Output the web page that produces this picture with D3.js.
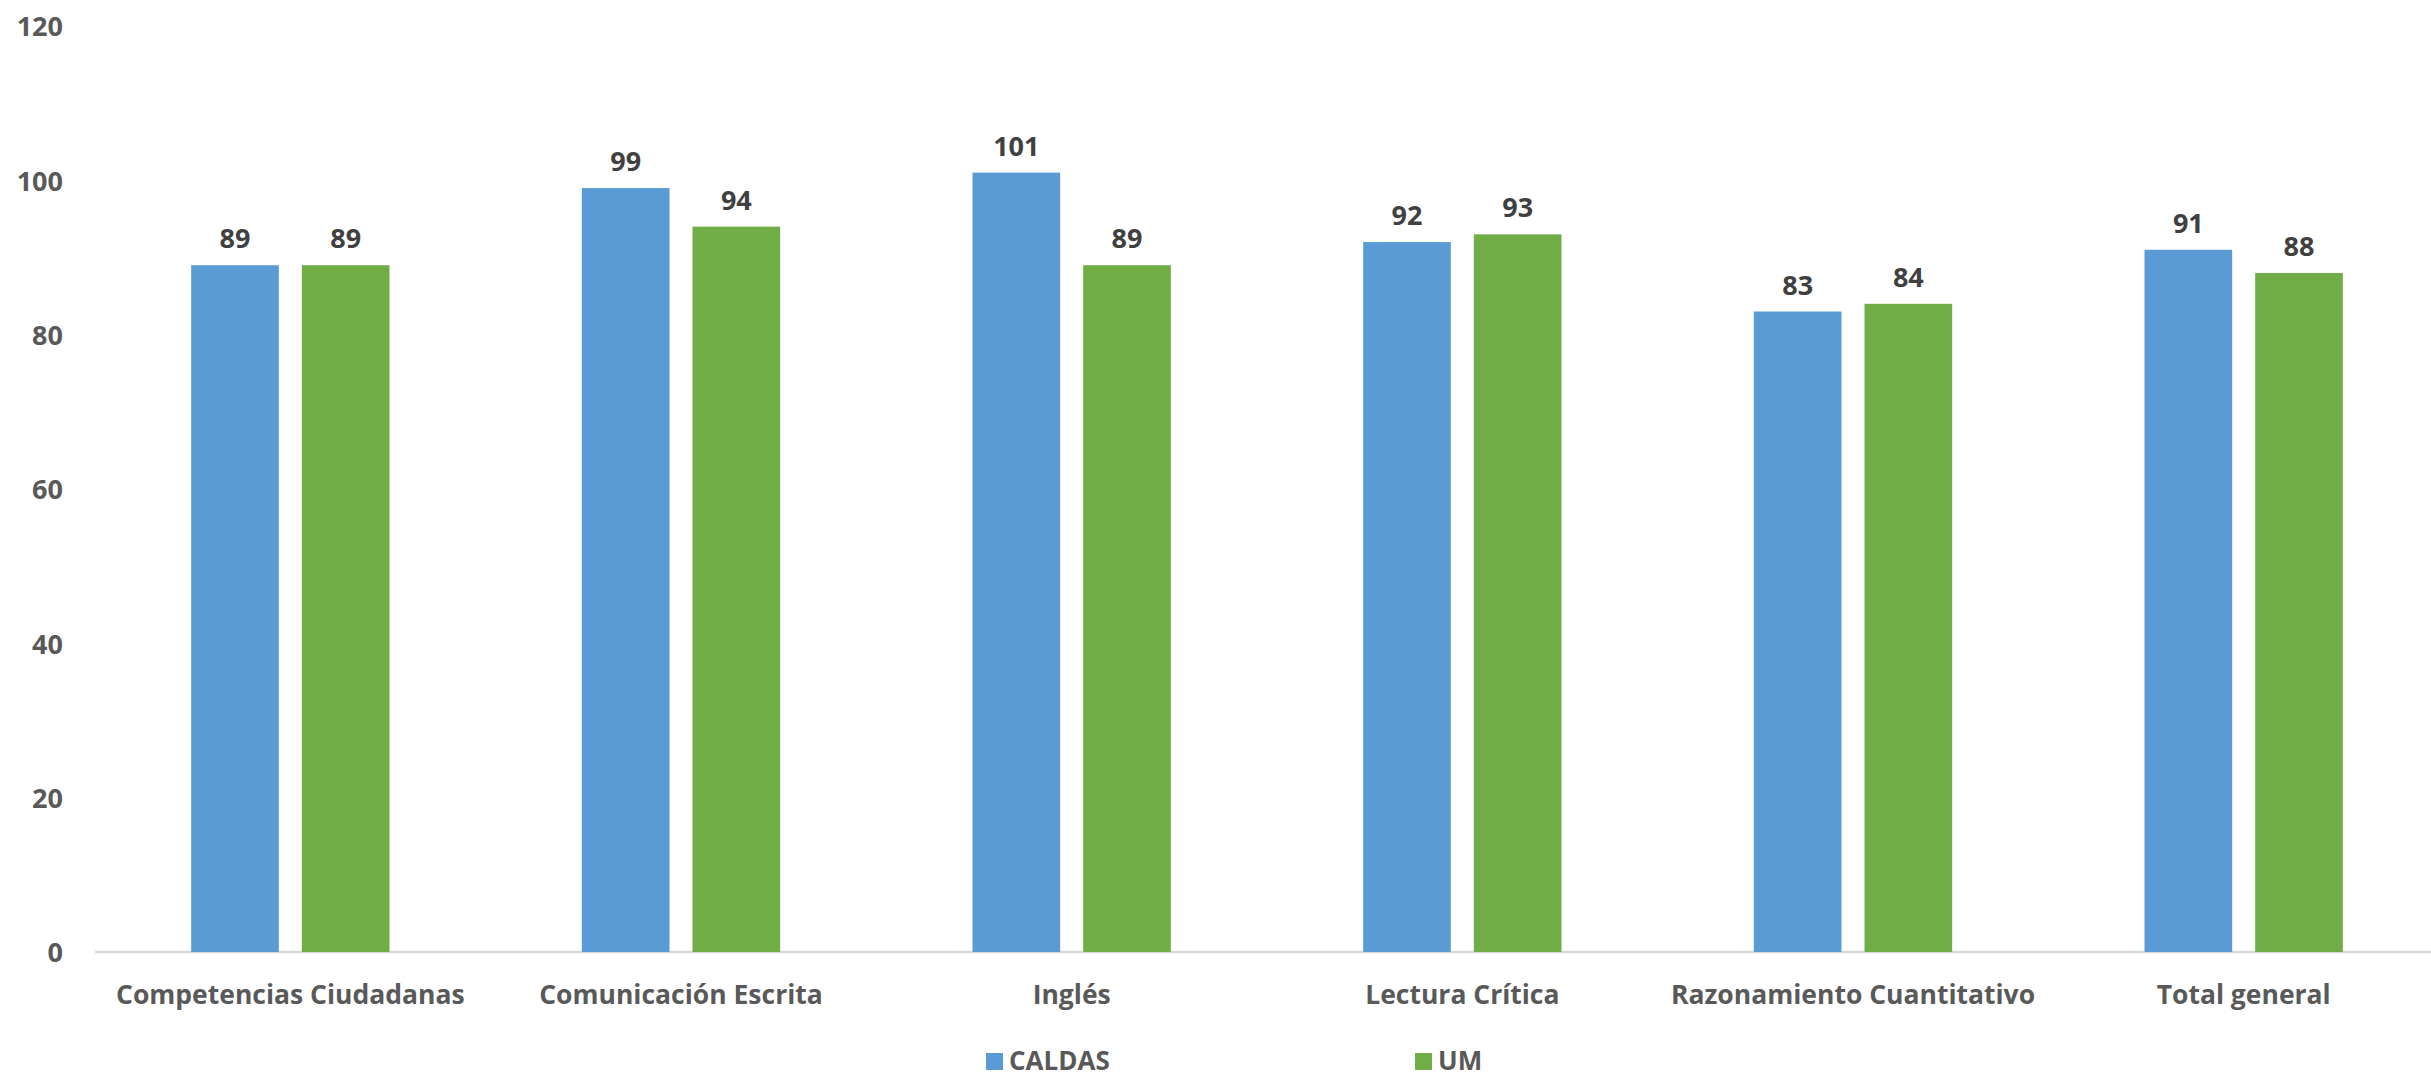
<!DOCTYPE html>
<html><head><meta charset="utf-8">
<script src="https://cdn.jsdelivr.net/npm/d3@7"></script>
<style>
html,body{margin:0;padding:0;background:#fff;}
svg{display:block;}
text{font-family:"Open Sans","Liberation Sans",sans-serif;font-weight:700;}
</style></head>
<body>
<svg id="chart" width="2431" height="1078"></svg>
<script>
const categories = ["Competencias Ciudadanas","Comunicación Escrita","Inglés","Lectura Crítica","Razonamiento Cuantitativo","Total general"];
const seriesNames = ["CALDAS","UM"];
const caldas = [89, 99, 101, 92, 83, 91];
const um = [89, 94, 89, 93, 84, 88];
const yTicks = [0, 20, 40, 60, 80, 100, 120];
const colors = ["#5B9BD5", "#70AD47"];

(function(){
const svg = d3.select("#chart");
const W = 2431, H = 1078;
const pLeft = 95, pRight = 2439, pTop = 26, pBottom = 952;

const x0 = d3.scaleBand().domain(categories).range([pLeft, pRight]).paddingInner(0).paddingOuter(0);
const x1 = d3.scaleBand().domain(seriesNames).range([0, x0.bandwidth()]).paddingInner(0.208).paddingOuter(0.869);
const y = d3.scaleLinear().domain([0, 120]).range([pBottom, pTop]);

const values = [caldas, um];

// baseline
svg.append("line").attr("x1", pLeft).attr("x2", W).attr("y1", y(0)).attr("y2", y(0))
  .attr("stroke", "#D9D9D9").attr("stroke-width", 2.5);

// y axis
const yAxis = d3.axisLeft(y).tickValues(yTicks).tickSize(0).tickPadding(0);
const gy = svg.append("g").attr("transform", "translate(63,0)").call(yAxis);
gy.select(".domain").remove();
gy.selectAll("text").attr("fill", "#595959").style("font-size", "27px")
  .style("font-family", "'Open Sans','Liberation Sans',sans-serif").style("font-weight", 700)
  .attr("dy", "0.36em");

// bars
seriesNames.forEach((s, si) => {
  const g = svg.append("g");
  g.selectAll("rect").data(categories).join("rect")
    .attr("x", c => x0(c) + x1(s))
    .attr("y", (c, i) => y(values[si][i]))
    .attr("width", x1.bandwidth())
    .attr("height", (c, i) => y(0) - y(values[si][i]))
    .attr("fill", colors[si]);
  g.selectAll("text").data(categories).join("text")
    .attr("x", c => x0(c) + x1(s) + x1.bandwidth() / 2)
    .attr("y", (c, i) => y(values[si][i]) - 17)
    .attr("text-anchor", "middle")
    .attr("fill", "#404040").style("font-size", "27px")
    .text((c, i) => values[si][i]);
});

// x axis labels
const xAxis = d3.axisBottom(x0).tickSize(0).tickPadding(0);
const gx = svg.append("g").attr("transform", `translate(0,${y(0)})`).call(xAxis);
gx.select(".domain").remove();
gx.selectAll("text").attr("fill", "#595959").style("font-size", "26.5px")
  .style("font-family", "'Open Sans','Liberation Sans',sans-serif").style("font-weight", 700)
  .attr("y", 52).attr("dy", 0);

// legend
const legendX = [986, 1415];
seriesNames.forEach((s, si) => {
  const g = svg.append("g").attr("transform", `translate(${legendX[si]},0)`);
  g.append("rect").attr("x", 0).attr("y", 1053).attr("width", 17).attr("height", 17).attr("fill", colors[si]);
  g.append("text").attr("x", 23).attr("y", 1070).attr("fill", "#595959").style("font-size", "26px").text(s);
});
})();
</script>
</body></html>
